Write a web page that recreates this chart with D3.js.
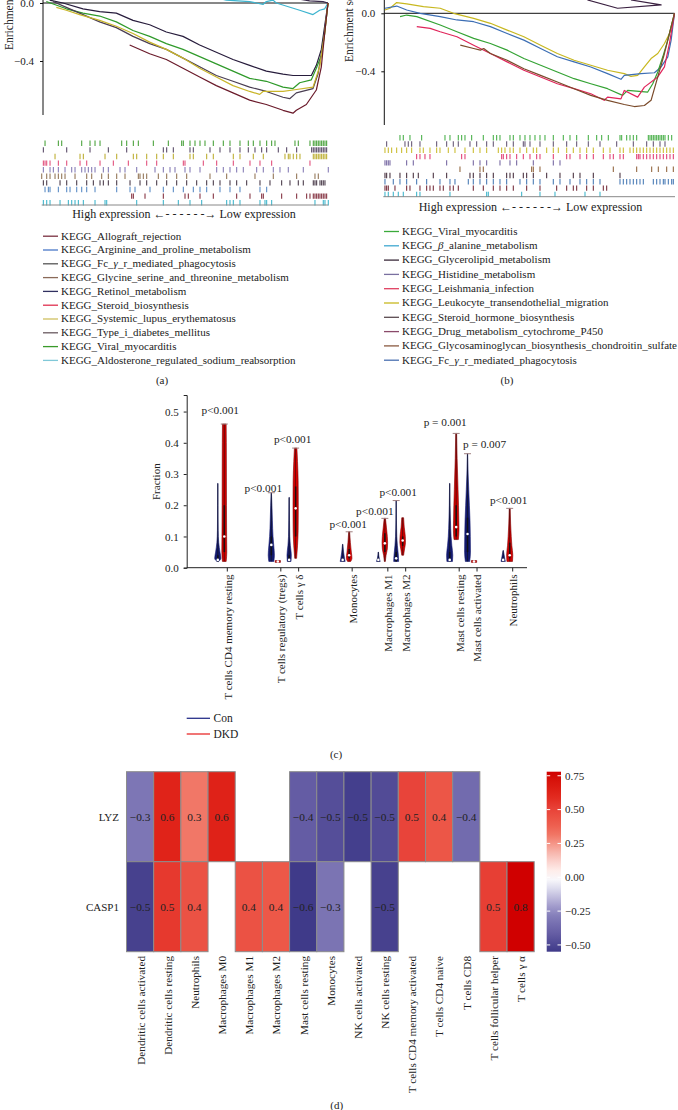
<!DOCTYPE html>
<html><head><meta charset="utf-8">
<script src="https://cdn.jsdelivr.net/npm/d3@7"></script>
<style>
body{margin:0;background:#fff}
svg{display:block;background:#fff}
text{font-family:"Liberation Serif","DejaVu Serif",serif;fill:#222}
</style>
</head><body>
<svg id="c" width="678" height="1110"></svg>
<script>
// ---------------- DATA ----------------
// (a) running enrichment score curves: [gene rank, ES]
const esA_Allograft = [[260,-0.29],[320,-0.35],[370,-0.39],[420,-0.45],[470,-0.51],[520,-0.57],[570,-0.62],[620,-0.67],[670,-0.70],[720,-0.74],[750,-0.76],[760,-0.74],[790,-0.70],[820,-0.60],[835,-0.44],[845,-0.21],[855,0]];
const esA_Lupus = [[40,-0.03],[70,-0.05],[110,-0.08],[170,-0.12],[220,-0.16],[270,-0.21],[320,-0.27],[370,-0.32],[420,-0.38],[470,-0.45],[520,-0.51],[570,-0.57],[620,-0.61],[650,-0.63],[660,-0.61],[720,-0.61],[750,-0.60],[810,-0.58],[830,-0.44],[845,-0.21],[855,0]];
const esA_Viral = [[10,0.01],[70,-0.04],[120,-0.07],[170,-0.09],[220,-0.13],[270,-0.19],[320,-0.23],[370,-0.28],[420,-0.32],[470,-0.37],[520,-0.42],[570,-0.47],[620,-0.52],[670,-0.54],[720,-0.58],[750,-0.59],[770,-0.55],[805,-0.53],[820,-0.45],[835,-0.36],[845,-0.21],[855,0]];
const esA_Retinol = [[20,0.02],[60,0],[120,-0.04],[170,-0.06],[220,-0.07],[270,-0.12],[320,-0.15],[370,-0.20],[420,-0.23],[470,-0.29],[520,-0.34],[570,-0.39],[620,-0.43],[670,-0.47],[720,-0.49],[750,-0.50],[805,-0.50],[820,-0.43],[835,-0.32],[845,-0.16],[855,0]];
const esA_TypeI = [[30,0.01],[70,-0.03],[120,-0.08],[170,-0.13],[220,-0.17],[270,-0.23],[320,-0.28],[370,-0.32],[420,-0.38],[470,-0.44],[520,-0.50],[570,-0.54],[620,-0.58],[670,-0.61],[720,-0.65],[740,-0.66],[760,-0.62],[810,-0.59],[825,-0.49],[835,-0.35],[845,-0.19],[855,0]];
const esA_Aldosterone = [[530,0.03],[550,0.02],[620,0.01],[660,-0.01],[670,0.01],[690,0.02],[700,0],[770,-0.05],[810,-0.08],[830,-0.05],[845,-0.04],[855,0]];
const esA_Fc = [[760,0.03],[800,0.015],[840,0.01],[855,0]];

// (b) running enrichment score curves
const esB_Leukocyte = [[2,0.023],[17,0.035],[37,0.074],[67,0.065],[117,0.046],[167,0.035],[207,0],[267,-0.035],[317,-0.069],[367,-0.116],[417,-0.162],[467,-0.22],[517,-0.277],[567,-0.324],[617,-0.358],[667,-0.393],[717,-0.416],[737,-0.435],[757,-0.428],[777,-0.37],[797,-0.312],[817,-0.277],[837,-0.208],[852,-0.139],[867,0]];
const esB_Fc = [[2,0.035],[37,0.05],[67,0.023],[107,0],[167,-0.023],[217,-0.046],[267,-0.058],[317,-0.092],[367,-0.139],[417,-0.185],[467,-0.243],[517,-0.30],[567,-0.335],[617,-0.37],[667,-0.416],[707,-0.455],[717,-0.428],[767,-0.416],[807,-0.41],[827,-0.37],[847,-0.30],[857,-0.185],[867,0]];
const esB_Viral = [[47,-0.023],[67,-0.012],[97,-0.023],[167,-0.081],[217,-0.127],[267,-0.173],[317,-0.208],[367,-0.254],[417,-0.312],[467,-0.358],[517,-0.405],[567,-0.451],[617,-0.486],[667,-0.52],[712,-0.566],[727,-0.532],[787,-0.543],[802,-0.486],[817,-0.405],[832,-0.30],[847,-0.185],[867,0]];
const esB_Leishmania = [[97,-0.092],[137,-0.104],[167,-0.127],[217,-0.162],[267,-0.22],[317,-0.277],[367,-0.335],[417,-0.393],[467,-0.439],[517,-0.486],[567,-0.52],[617,-0.555],[657,-0.60],[667,-0.578],[707,-0.59],[717,-0.532],[757,-0.578],[777,-0.509],[817,-0.439],[837,-0.37],[852,-0.208],[867,0]];
const esB_Glycosaminoglycan = [[227,-0.22],[267,-0.243],[287,-0.254],[297,-0.243],[317,-0.277],[367,-0.324],[417,-0.382],[467,-0.428],[517,-0.474],[567,-0.52],[617,-0.566],[667,-0.60],[717,-0.629],[747,-0.643],[777,-0.636],[797,-0.60],[817,-0.439],[837,-0.277],[852,-0.139],[867,0]];
const esB_Glycerolipid = [[607,0.092],[697,0.035],[827,0.058],[737,0.092]];

// (a) gene-set hit positions (rank), one list per rug row, top to bottom
const rugA = [
 [10,50,60,120,145,160,175,240,255,275,290,335,380,420,425,445,460,475,490,515,545,565,595,620,635,655,675,690,700,760,770,805,815,820,825,830,835,840,845,850,855],
 [5,75,145,200,255,365,375,395,445,455,505,535,565,595,620,640,660,675,710,735,765,810,815,820,825,830,835,840,845,850,855],
 [40,115,125,190,225,275,285,315,345,365,395,445,455,495,515,575,595,635,665,730,740,745,755,765,775,815,820,825,830,835,840,845,850,855],
 [5,10,15,25,50,75,115,135,175,215,260,315,345,425,430,485,525,575,625,655,690,805],
 [5,25,35,50,70,90,100,120,130,140,150,160,185,200,235,250,285,340,365,385,400,430,445,475,525,545,565,585,605,645,665,695,715,740,785,860],
 [0,15,25,40,50,60,70,100,135,150,180,200,225,250,290,295,305,315,350,375,405,435,505,555,640,695,765,820,830],
 [5,15,55,75,105,135,155,175,185,200,225,265,295,315,345,375,405,435,465,495,515,535,565,585,615,655,685,720,745,770,785,815,820,825,835,840,845,850],
 [10,20,25,50,75,85,105,120,135,160,225,265,280,325,365,395,425,455,475,495,535,565,595,655,675],
 [270,275,310,365,430,440,475,515,585,625,660,665,720,765,795,805,815,820,825,830,835,840,845,850,855],
 [5,15,25,55,80,90,100,110,125,160,190,195,285,365,410,445,480,555,565,575,595,655,670,675,690,820,845,850,860]
];
// (b) gene-set hit positions
const rugB = [
 [50,60,80,115,185,200,225,235,245,265,300,330,340,350,380,390,410,425,440,455,470,485,510,540,560,580,615,640,655,675,710,715,730,740,750,760,795,800,805,810,815,820,825,830,835,840,845,855,865],
 [10,65,75,85,110,160,190,210,225,260,280,310,330,370,390,420,425,440,470,510,550,580,615,650,700,750,790,810,830,845],
 [5,15,25,40,55,70,85,110,120,140,160,170,195,215,245,270,290,310,345,355,365,380,390,410,430,450,460,490,510,525,550,570,590,610,630,660,680,710,720,740,750,760,770,780,790,800,810,820,830,840,850,860,870],
 [100,110,125,140,235,245,355,360,370,380,400,420,440,460,470,510,550,560,590,610,630,660,680,690,710,720,760,765,770,780,790,800,810,820,830,840,850,860,870],
 [5,10,15,20,70,90,190,270,290,310,350,380,400,450,510,530],
 [230,290,300,445,450,470,690,760,805,825,850,870],
 [5,10,20,50,70,90,105,150,190,260,270,290,310,330,370,380,390,420,430,450,490,530,570,590,630,710],
 [5,30,50,70,100,130,170,200,215,255,270,290,310,330,350,370,410,430,450,470,510,530,560,590,610,630,650,710,720,730,740,750,760,770,780,810,820,830,840,845,855,865,870],
 [5,10,15,35,70,80,110,130,140,150,170,180,200,210,225,270,300,330,350,370,390,430,470,520,550,570,580,610,630,660,670],
 [5,15,30,45,60,100,110,200,310,315,415,470,515,605,650]
];

const legendA = ["KEGG_Allograft_rejection","KEGG_Arginine_and_proline_metabolism","KEGG_Fc_γ_r_mediated_phagocytosis","KEGG_Glycine_serine_and_threonine_metabolism","KEGG_Retinol_metabolism","KEGG_Steroid_biosynthesis","KEGG_Systemic_lupus_erythematosus","KEGG_Type_i_diabetes_mellitus","KEGG_Viral_myocarditis","KEGG_Aldosterone_regulated_sodium_reabsorption"];
const legendB = ["KEGG_Viral_myocarditis","KEGG_β_alanine_metabolism","KEGG_Glycerolipid_metabolism","KEGG_Histidine_metabolism","KEGG_Leishmania_infection","KEGG_Leukocyte_transendothelial_migration","KEGG_Steroid_hormone_biosynthesis","KEGG_Drug_metabolism_cytochrome_P450","KEGG_Glycosaminoglycan_biosynthesis_chondroitin_sulfate","KEGG_Fc_γ_r_mediated_phagocytosis"];

// (c) immune-cell fractions, violin density profiles: [fraction, relative width]
const cellTypes = ["T cells CD4 memory resting","T cells regulatory (tregs)","T cells γ δ","Monocytes","Macrophages M1","Macrophages M2","Mast cells resting","Mast cells activated","Neutrophils"];
const groups = ["Con","DKD"];
const conProfiles = [
 [[0.02,0.3],[0.03,1],[0.05,0.7],[0.08,0.3],[0.12,0.12],[0.2,0.06],[0.27,0.04]],
 [[0.02,0.8],[0.04,1],[0.07,0.8],[0.1,0.55],[0.15,0.35],[0.2,0.2],[0.24,0.05]],
 [[0.02,0.6],[0.04,0.7],[0.07,0.4],[0.1,0.2],[0.15,0.12],[0.225,0.05]],
 [[0.02,0.8],[0.03,0.6],[0.05,0.3],[0.075,0.05]],
 [[0.02,0.6],[0.03,0.3],[0.05,0.05]],
 [[0.02,0.8],[0.04,0.7],[0.07,0.4],[0.1,0.2],[0.15,0.08],[0.215,0.04]],
 [[0.02,0.9],[0.04,1],[0.07,0.7],[0.1,0.45],[0.15,0.25],[0.2,0.12],[0.27,0.04]],
 [[0.02,0.7],[0.05,0.95],[0.1,0.9],[0.15,0.8],[0.2,0.6],[0.25,0.4],[0.3,0.2],[0.365,0.05]],
 [[0.02,0.7],[0.03,0.5],[0.055,0.05]]
];
const dkdProfiles = [
 [[0.02,0.6],[0.05,0.8],[0.1,0.75],[0.2,0.7],[0.3,0.68],[0.4,0.65],[0.46,0.6]],
 [[0.017,0.85],[0.023,0.85]],
 [[0.03,0.3],[0.07,0.6],[0.12,0.8],[0.2,0.85],[0.28,0.8],[0.34,0.6],[0.383,0.4]],
 [[0.02,0.5],[0.03,0.9],[0.05,0.7],[0.08,0.4],[0.115,0.15]],
 [[0.02,0.15],[0.04,0.4],[0.06,0.8],[0.08,0.9],[0.1,0.8],[0.13,0.5],[0.158,0.2]],
 [[0.04,0.3],[0.06,0.6],[0.08,0.9],[0.1,0.85],[0.13,0.5],[0.16,0.3]],
 [[0.09,0.7],[0.12,0.9],[0.15,0.85],[0.2,0.75],[0.25,0.6],[0.3,0.45],[0.35,0.3],[0.43,0.15]],
 [[0.017,0.85],[0.023,0.85]],
 [[0.02,0.9],[0.04,1],[0.07,0.7],[0.1,0.5],[0.14,0.3],[0.19,0.15]]
];
const conMedian = [0.025,0.073,0.025,0.025,0.025,0.03,0.025,0.108,0.025];
const dkdMedian = [0.10,0.02,0.19,0.04,0.078,0.087,0.13,0.02,0.04];
const conBox = [[0.02,0.04],[0.04,0.1],[0.02,0.04],[0.02,0.03],[0.02,0.03],[0.02,0.05],[0.02,0.05],[0.05,0.16],[0.02,0.03]];
const dkdBox = [[0.05,0.2],[0.02,0.02],[0.1,0.26],[0.03,0.06],[0.05,0.11],[0.07,0.1],[0.1,0.2],[0.02,0.02],[0.03,0.08]];
const pValues = ["p<0.001","p<0.001","p<0.001","p<0.001","p<0.001","p<0.001","p = 0.001","p = 0.007","p<0.001"];
const fracTicks = [0.0,0.1,0.2,0.3,0.4,0.5];

// (d) correlation heatmap
const heatCols = ["Dendritic cells activated","Dendritic cells resting","Neutrophils","Macrophages M0","Macrophages M1","Macrophages M2","Mast cells resting","Monocytes","NK cells activated","NK cells resting","T cells CD4 memory activated","T cells CD4 naive","T cells CD8","T cells follicular helper","T cells γ α"];
const heatGenes = ["LYZ","CASP1"];
const lyzCorr   = [-0.31,0.62,0.31,0.63,null,null,-0.42,-0.47,-0.53,-0.48,0.50,0.42,-0.36,null,null];
const casp1Corr = [-0.52,0.54,0.44,null,0.44,0.41,-0.55,-0.32,null,-0.52,null,null,null,0.52,0.78];
const colorbarTicks = [0.75,0.50,0.25,0.00,-0.25,-0.50];

// ---------------- DRAW ----------------
const svg = d3.select("#c");
const serif = '"Liberation Serif","DejaVu Serif",serif';

// layout-only slot positions for panel (c) (unlabelled gaps between groups)
const slotDomain = ["T cells CD4 memory resting","g1","g2","T cells regulatory (tregs)","T cells γ δ","g3","g4","Monocytes","g5","Macrophages M1","Macrophages M2","g6","g7","Mast cells resting","Mast cells activated","g8","Neutrophils"];
// layout-only nudges for p-value labels [dx, dy] in px
const pNudge = [[-4,-4],[-8,5],[-3,1],[-1,2],[-10,3],[2,1],[-11,-1.5],[17,0],[-1,2]];

function esPanel(cfg){
  const g = svg.append("g");
  const x = d3.scaleLinear().domain(cfg.xDomain).range(cfg.xRange);
  const y = d3.scaleLinear().domain([-0.4,0]).range([cfg.y0 + 58, cfg.y0]);
  const line = d3.line().x(d=>x(d[0])).y(d=>y(d[1]));
  g.append("line").attr("x1",cfg.xRange[0]).attr("x2",cfg.xRange[0]).attr("y1",0).attr("y2",cfg.axisBottom).attr("stroke","#111").attr("stroke-width",1);
  g.append("line").attr("x1",cfg.xRange[0]).attr("x2",cfg.xRange[1]).attr("y1",y(0)).attr("y2",y(0)).attr("stroke","#111").attr("stroke-width",1);
  const yAxis = d3.axisLeft(y).tickValues([0,-0.4]).tickFormat(d3.format(".1f")).tickSize(3).tickPadding(6);
  const ga = g.append("g").attr("transform",`translate(${cfg.xRange[0]},0)`).call(yAxis);
  ga.select(".domain").remove();
  ga.selectAll("text").attr("font-family",serif).attr("font-size",11).attr("fill","#222");
  ga.selectAll("line").attr("stroke","#111");
  g.append("text").attr("transform",`translate(${cfg.labelX},${cfg.labelY}) rotate(-90)`)
    .attr("font-size",11.5).attr("text-anchor","start").text("Enrichment score");
  cfg.curves.forEach(c=>{
    g.append("path").datum(c.data).attr("d",line).attr("fill","none")
      .attr("stroke",c.color).attr("stroke-width",1.2).attr("stroke-linejoin","round");
  });
  const xr = d3.scaleLinear().domain(cfg.rugDomain).range(cfg.rugRange);
  cfg.rug.forEach((row,i)=>{
    const cy = cfg.rugTop + i*cfg.rugStep;
    g.append("g").selectAll("line").data(row).join("line")
      .attr("x1",d=>xr(d)).attr("x2",d=>xr(d)).attr("y1",cy-2.7).attr("y2",cy+2.7)
      .attr("stroke",cfg.rugColors[i]).attr("stroke-width",1.1).attr("opacity",0.9);
  });
  g.append("line").attr("x1",cfg.rugRange[0]).attr("x2",cfg.rugRange[1]).attr("y1",cfg.rugBase).attr("y2",cfg.rugBase).attr("stroke","#888").attr("stroke-width",1);
  g.append("text").attr("x",cfg.exprX).attr("y",cfg.exprY).attr("dy","0.35em").attr("text-anchor","middle")
    .attr("font-size",12).text("High expression \u2190- - - - - -\u2192 Low expression");
  cfg.legend.forEach((t,i)=>{
    const cy = cfg.legTop + i*cfg.legStep;
    g.append("line").attr("x1",cfg.legX).attr("x2",cfg.legX+15).attr("y1",cy+0.5).attr("y2",cy+0.5).attr("stroke",cfg.legColors[i]).attr("stroke-width",1.3);
    const tx = g.append("text").attr("x",cfg.legX+18).attr("y",cy).attr("dy","0.35em").attr("font-size",11);
    t.split(/([βγ])/).forEach(part=>{
      if(!part) return;
      const ts = tx.append("tspan").text(part);
      if(part==="β"||part==="γ") ts.attr("font-style","italic");
    });
  });
  g.append("text").attr("x",cfg.tagX).attr("y",380).attr("dy","0.35em").attr("text-anchor","middle").attr("font-size",11).text(cfg.tag);
}

esPanel({
  xDomain:[0,855], xRange:[43,328], y0:3, axisBottom:115, labelX:13, labelY:50,
  curves:[
    {data:esA_Aldosterone,color:"#3db4cf"},
    {data:esA_Fc,color:"#3a2a4a"},
    {data:esA_Retinol,color:"#271c3c"},
    {data:esA_Viral,color:"#2f9a2a"},
    {data:esA_TypeI,color:"#4a3e52"},
    {data:esA_Lupus,color:"#c9b52a"},
    {data:esA_Allograft,color:"#6a1a2a"}
  ],
  rug:rugA, rugDomain:[0,860], rugRange:[41.7,328.3], rugTop:143.3, rugStep:6.6, rugBase:205,
  rugColors:["#3a9a2a","#4a3a5a","#b8a820","#e04070","#7a70b0","#8a6a48","#3a2a3a","#4a80c0","#7a2030","#30b0c8"],
  exprX:184, exprY:213.5,
  legend:legendA, legX:43, legTop:235.7, legStep:13.8,
  legColors:["#7a3040","#4a78c8","#555555","#8a6a58","#303060","#e03050","#d0c060","#6a5a60","#3a9a2a","#80c8d8"],
  tag:"(a)", tagX:162
});
esPanel({
  xDomain:[0,867], xRange:[384.3,674.5], y0:13.3, axisBottom:125, labelX:353, labelY:62,
  curves:[
    {data:esB_Glycerolipid,color:"#3a2040"},
    {data:esB_Leukocyte,color:"#c8b820"},
    {data:esB_Fc,color:"#3c6eb4"},
    {data:esB_Viral,color:"#34a334"},
    {data:esB_Leishmania,color:"#e0245a"},
    {data:esB_Glycosaminoglycan,color:"#7a4a2a"}
  ],
  rug:rugB, rugDomain:[0,875], rugRange:[383.3,675], rugTop:137.7, rugStep:6.3, rugBase:196.7,
  rugColors:["#3aaa3a","#5a4a6a","#c8b820","#e0306a","#6a5a9a","#8a5a30","#3a2030","#3a70b0","#6a1a2a","#30b0c8"],
  exprX:530.5, exprY:206.7,
  legend:legendB, legX:384, legTop:231, legStep:14.3,
  legColors:["#3aaa3a","#40a8d0","#3a2a3a","#7a70a0","#e04060","#c8b820","#5a4a50","#8a4a6a","#8a5a40","#4a70b0"],
  tag:"(b)", tagX:507
});

// ---------- (c) violins ----------
(function(){
  const g = svg.append("g");
  const x = d3.scalePoint().domain(slotDomain).range([227.3,512.7]);
  const y = d3.scaleLinear().domain([0,0.553]).range([567.7,395]);
  const maxHalf = 3.1;
  const offs = {Con:-9.5, DKD:-3};
  const fills = {Con:"#131a6e", DKD:"#d40000"};
  const strokes = {Con:"#131a6e", DKD:"#800000"};
  const ya = g.append("g").attr("transform","translate(186.7,0)")
    .call(d3.axisLeft(y).tickValues(fracTicks).tickFormat(d3.format(".1f")).tickSize(3).tickPadding(5));
  ya.select(".domain").attr("stroke","#222");
  ya.selectAll("text").attr("font-family",serif).attr("font-size",11).attr("fill","#222");
  ya.selectAll("line").attr("stroke","#222");
  g.append("line").attr("x1",186.7).attr("x2",527).attr("y1",567.7).attr("y2",567.7).attr("stroke","#222");
  g.append("text").attr("transform","translate(156,481.7) rotate(-90)").attr("dy","0.35em").attr("text-anchor","middle").attr("font-size",11).text("Fraction");
  cellTypes.forEach((ct,i)=>{
    const tx = x(ct);
    g.append("line").attr("x1",tx).attr("x2",tx).attr("y1",567.7).attr("y2",571.5).attr("stroke","#222");
    g.append("text").attr("transform",`translate(${tx+0.5},574.5) rotate(-90)`).attr("dy","0.35em")
      .attr("text-anchor","end").attr("font-size",11).text(ct);
    const series = [["Con",conProfiles[i],conMedian[i],conBox[i]],["DKD",dkdProfiles[i],dkdMedian[i],dkdBox[i]]];
    series.forEach(([grp,prof,med,box])=>{
      const cx = tx + offs[grp];
      const area = d3.area().curve(d3.curveMonotoneY)
        .y(d=>y(d[0])).x0(d=>cx - d[1]*maxHalf).x1(d=>cx + d[1]*maxHalf);
      g.append("path").datum(prof).attr("d",area).attr("fill",fills[grp]).attr("stroke",strokes[grp]).attr("stroke-width",0.6);
      const lo = prof[0][0], hi = prof[prof.length-1][0];
      g.append("line").attr("x1",cx).attr("x2",cx).attr("y1",y(lo)).attr("y2",y(hi)).attr("stroke","#111").attr("stroke-width",0.7).attr("opacity",0.8);
      g.append("line").attr("x1",cx).attr("x2",cx).attr("y1",y(box[0])).attr("y2",y(box[1])).attr("stroke","#111").attr("stroke-width",1.6).attr("opacity",0.85);
      g.append("circle").attr("cx",cx).attr("cy",y(med)).attr("r",1.3).attr("fill","#fff");
    });
    const conMax = conProfiles[i][conProfiles[i].length-1][0];
    const dkdMax = dkdProfiles[i][dkdProfiles[i].length-1][0];
    const top = Math.max(conMax,dkdMax);
    const cx = tx + (conMax>dkdMax ? offs.Con : offs.DKD);
    g.append("line").attr("x1",cx-3.5).attr("x2",cx+3.5).attr("y1",y(top)).attr("y2",y(top)).attr("stroke","#a08080").attr("stroke-width",1);
    g.append("text").attr("x",cx+pNudge[i][0]).attr("y",y(top)-6+pNudge[i][1]).attr("text-anchor","middle")
      .attr("font-size",11.3).attr("fill","#111").text(pValues[i]);
  });
  const legC = [{k:"Con",c:"#27308a",y:718.3},{k:"DKD",c:"#e82a2a",y:734}];
  legC.forEach(l=>{
    g.append("line").attr("x1",186.7).attr("x2",210).attr("y1",l.y).attr("y2",l.y).attr("stroke",l.c).attr("stroke-width",1.3);
    g.append("text").attr("x",213.5).attr("y",l.y).attr("dy","0.35em").attr("font-size",11.5).text(l.k);
  });
  g.append("text").attr("x",336).attr("y",754.3).attr("dy","0.35em").attr("text-anchor","middle").attr("font-size",11).text("(c)");
})();

// ---------- (d) heatmap ----------
(function(){
  const g = svg.append("g");
  const x = d3.scaleBand().domain(heatCols).range([126.5,534.2]);
  const y = d3.scaleBand().domain(heatGenes).range([771.7,951.7]);
  const color = d3.scaleLinear()
    .domain([-0.55,-0.5,-0.4,-0.3,-0.2,-0.1,0,0.1,0.2,0.3,0.4,0.5,0.6,0.78])
    .range(["#3f3a89","#4c4692","#6a62a8","#7f78b6","#a7a2cf","#d6d4ea","#ffffff","#fbd9d5","#f6aea4","#f17a6a","#ed5a4a","#e8443a","#e2261c","#d00000"])
    .interpolate(d3.interpolateLab);
  const fmt = d3.format(".1f");
  const rows = [lyzCorr, casp1Corr];
  rows.forEach((vals,r)=>{
    vals.forEach((v,c)=>{
      if(v===null) return;
      const gx = x(heatCols[c]), gy = y(heatGenes[r]);
      g.append("rect").attr("x",gx).attr("y",gy).attr("width",x.bandwidth()).attr("height",y.bandwidth())
        .attr("fill",color(v)).attr("stroke","#8c8c8c").attr("stroke-width",1);
      g.append("text").attr("x",gx+x.bandwidth()/2).attr("y",gy+y.bandwidth()/2).attr("dy","0.35em")
        .attr("text-anchor","middle").attr("font-size",11.4).attr("fill","#111").text(fmt(v));
    });
    g.append("text").attr("x",119).attr("y",y(heatGenes[r])+y.bandwidth()/2).attr("dy","0.35em")
      .attr("text-anchor","end").attr("font-size",11).text(heatGenes[r]);
  });
  heatCols.forEach(c=>{
    g.append("text").attr("transform",`translate(${x(c)+x.bandwidth()/2+0.5},956) rotate(-90)`).attr("dy","0.35em")
      .attr("text-anchor","end").attr("font-size",11.2).text(c);
  });
  const cb = d3.scaleLinear().domain([-0.55,0.78]).range([951.7,771.7]);
  const defs = svg.append("defs");
  const grad = defs.append("linearGradient").attr("id","cbg").attr("x1",0).attr("x2",0).attr("y1",1).attr("y2",0);
  d3.range(0,1.0001,0.05).forEach(t=>{
    grad.append("stop").attr("offset",t).attr("stop-color",color(-0.55+t*1.33));
  });
  const bx = 546.7, bw = 14.3;
  g.append("rect").attr("x",bx).attr("y",771.7).attr("width",bw).attr("height",180).attr("fill","url(#cbg)");
  colorbarTicks.forEach(t=>{
    const ty = cb(t);
    g.append("line").attr("x1",bx).attr("x2",bx+3.5).attr("y1",ty).attr("y2",ty).attr("stroke","#fff").attr("stroke-width",1);
    g.append("line").attr("x1",bx+bw-3.5).attr("x2",bx+bw).attr("y1",ty).attr("y2",ty).attr("stroke","#fff").attr("stroke-width",1);
    g.append("text").attr("x",bx+bw+4).attr("y",ty).attr("dy","0.35em").attr("font-size",11).text(d3.format(".2f")(t));
  });
  g.append("text").attr("x",336.7).attr("y",1105).attr("dy","0.35em").attr("text-anchor","middle").attr("font-size",11).text("(d)");
})();
</script>
</body></html>
